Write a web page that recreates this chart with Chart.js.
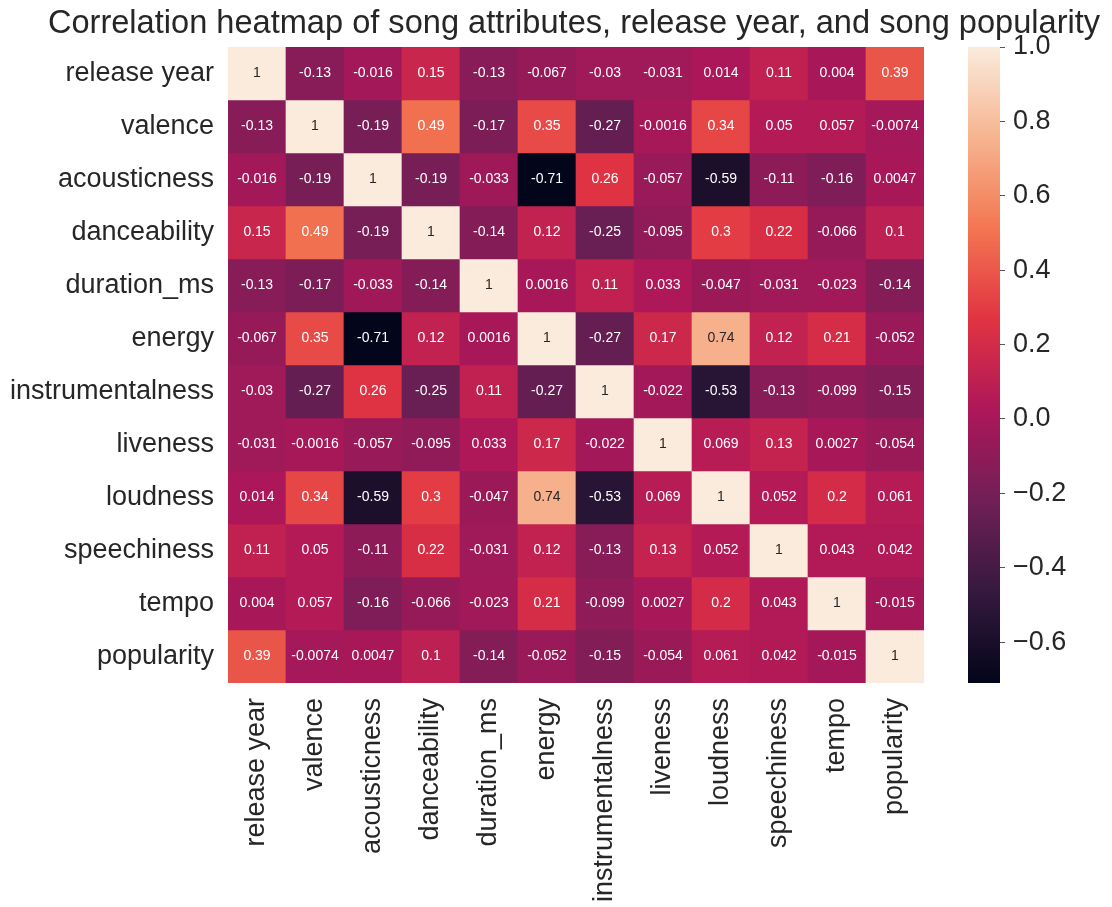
<!DOCTYPE html>
<html>
<head>
<meta charset="utf-8">
<script src="https://cdn.jsdelivr.net/npm/chart.js@4.4.1/dist/chart.umd.min.js"></script>
<style>
  html, body { margin: 0; padding: 0; background: #fff; overflow: hidden; }
  #wrap { position: relative; width: 1112px; height: 907px; }
  #heatmap { position: absolute; left: 0; top: 0; }
  #cbar { position: absolute; left: 940px; top: 0; }
  #title {
    position: absolute; left: 574px; top: 6px; transform: translateX(-50%);
    white-space: nowrap; font: 32.6px/32px "Liberation Sans", Arial, sans-serif; color: #262626;
  }
</style>
</head>
<body>
<div id="wrap">
  <canvas id="heatmap" width="1112" height="907"></canvas>
  <canvas id="cbar" width="172" height="907"></canvas>
  <div id="title">Correlation heatmap of song attributes, release year, and song popularity</div>
</div>
<script>
const features = ['release year', 'valence', 'acousticness', 'danceability', 'duration_ms', 'energy',
  'instrumentalness', 'liveness', 'loudness', 'speechiness', 'tempo', 'popularity'];

// correlation matrix, one row per feature (same order as features)
const corr = [
  [1, -0.13, -0.016, 0.15, -0.13, -0.067, -0.03, -0.031, 0.014, 0.11, 0.004, 0.39],
  [-0.13, 1, -0.19, 0.49, -0.17, 0.35, -0.27, -0.0016, 0.34, 0.05, 0.057, -0.0074],
  [-0.016, -0.19, 1, -0.19, -0.033, -0.71, 0.26, -0.057, -0.59, -0.11, -0.16, 0.0047],
  [0.15, 0.49, -0.19, 1, -0.14, 0.12, -0.25, -0.095, 0.3, 0.22, -0.066, 0.1],
  [-0.13, -0.17, -0.033, -0.14, 1, 0.0016, 0.11, 0.033, -0.047, -0.031, -0.023, -0.14],
  [-0.067, 0.35, -0.71, 0.12, 0.0016, 1, -0.27, 0.17, 0.74, 0.12, 0.21, -0.052],
  [-0.03, -0.27, 0.26, -0.25, 0.11, -0.27, 1, -0.022, -0.53, -0.13, -0.099, -0.15],
  [-0.031, -0.0016, -0.057, -0.095, 0.033, 0.17, -0.022, 1, 0.069, 0.13, 0.0027, -0.054],
  [0.014, 0.34, -0.59, 0.3, -0.047, 0.74, -0.53, 0.069, 1, 0.052, 0.2, 0.061],
  [0.11, 0.05, -0.11, 0.22, -0.031, 0.12, -0.13, 0.13, 0.052, 1, 0.043, 0.042],
  [0.004, 0.057, -0.16, -0.066, -0.023, 0.21, -0.099, 0.0027, 0.2, 0.043, 1, -0.015],
  [0.39, -0.0074, 0.0047, 0.1, -0.14, -0.052, -0.15, -0.054, 0.061, 0.042, -0.015, 1]
];

const cbarTicks = [-0.6, -0.4, -0.2, 0.0, 0.2, 0.4, 0.6, 0.8, 1.0];
const vmin = -0.71;
const vmax = 1.0;

const FONT = '"Liberation Sans", Arial, sans-serif';
const TEXT = '#262626';

// seaborn "rocket" colormap, sampled
const rocketStops = [
  [0, [3, 5, 26]],
  [1 / 7, [53, 25, 62]],
  [2 / 7, [112, 31, 87]],
  [3 / 7, [173, 23, 89]],
  [4 / 7, [225, 51, 66]],
  [5 / 7, [243, 118, 81]],
  [6 / 7, [246, 180, 143]],
  [1, [250, 235, 221]]
];

function rocket(t) {
  t = Math.max(0, Math.min(1, t));
  for (let i = 1; i < rocketStops.length; i++) {
    const [t1, c1] = rocketStops[i];
    const [t0, c0] = rocketStops[i - 1];
    if (t <= t1) {
      const f = (t - t0) / (t1 - t0);
      return c0.map((c, k) => Math.round(c + (c1[k] - c) * f));
    }
  }
  return rocketStops[rocketStops.length - 1][1];
}

const toRgb = c => `rgb(${c[0]},${c[1]},${c[2]})`;
const norm = v => (v - vmin) / (vmax - vmin);

function luminance(c) {
  const lin = c.map(x => {
    x /= 255;
    return x <= 0.03928 ? x / 12.92 : Math.pow((x + 0.055) / 1.055, 2.4);
  });
  return 0.2126 * lin[0] + 0.7152 * lin[1] + 0.0722 * lin[2];
}

// like python's '.2g'
const fmt = v => String(parseFloat(v.toPrecision(2)));

const datasets = corr.map((row, r) => ({
  label: features[r],
  data: row.map(() => [r, r + 1]),
  backgroundColor: row.map(v => toRgb(rocket(norm(v)))),
  borderWidth: 0,
  barPercentage: 1,
  categoryPercentage: 1,
  grouped: false
}));

const cellLabels = {
  id: 'cellLabels',
  afterDatasetsDraw(chart) {
    const ctx = chart.ctx;
    ctx.save();
    ctx.font = '14px ' + FONT;
    ctx.textAlign = 'center';
    ctx.textBaseline = 'middle';
    chart.data.datasets.forEach((ds, r) => {
      chart.getDatasetMeta(r).data.forEach((bar, c) => {
        const v = corr[r][c];
        const p = bar.getCenterPoint();
        ctx.fillStyle = luminance(rocket(norm(v))) > 0.408 ? TEXT : '#ffffff';
        ctx.fillText(fmt(v), p.x, p.y);
      });
    });
    ctx.restore();
  }
};

new Chart(document.getElementById('heatmap'), {
  type: 'bar',
  data: { labels: features, datasets: datasets },
  options: {
    responsive: false,
    animation: false,
    layout: { padding: { left: 0, right: 188, top: 47, bottom: 0 } },
    scales: {
      x: {
        grid: { display: false, drawTicks: false },
        border: { display: false },
        ticks: {
          minRotation: 90,
          maxRotation: 90,
          autoSkip: false,
          padding: 15,
          color: TEXT,
          font: { family: FONT, size: 27 }
        },
        afterFit: s => { s.height = 907 - 683; }
      },
      y: {
        type: 'linear',
        reverse: true,
        min: 0,
        max: features.length,
        grid: { display: false, drawTicks: false },
        border: { display: false },
        afterBuildTicks: s => { s.ticks = features.map((f, i) => ({ value: i + 0.5 })); },
        ticks: {
          padding: 14,
          color: TEXT,
          font: { family: FONT, size: 27 },
          callback: (v, i) => features[i]
        },
        afterFit: s => { s.width = 228; }
      }
    },
    plugins: {
      legend: { display: false },
      tooltip: { enabled: false },
      title: { display: false }
    }
  },
  plugins: [cellLabels]
});

// colorbar
new Chart(document.getElementById('cbar'), {
  type: 'bar',
  data: {
    labels: [''],
    datasets: [{
      data: [[vmin, vmax]],
      borderWidth: 0,
      barPercentage: 1,
      categoryPercentage: 1,
      backgroundColor: ctx => {
        const area = ctx.chart.chartArea;
        if (!area) return null;
        const g = ctx.chart.ctx.createLinearGradient(0, area.bottom, 0, area.top);
        rocketStops.forEach(([t, c]) => g.addColorStop(t, toRgb(c)));
        return g;
      }
    }]
  },
  options: {
    responsive: false,
    animation: false,
    layout: { padding: { left: 28, right: 0, top: 47, bottom: 224 } },
    scales: {
      x: { display: false },
      y: {
        position: 'right',
        min: vmin,
        max: vmax,
        grid: { display: true, drawOnChartArea: false, drawTicks: true, tickLength: 5, color: '#555', lineWidth: 1 },
        border: { display: false },
        afterBuildTicks: s => { s.ticks = cbarTicks.map(v => ({ value: v })); },
        ticks: {
          padding: 8,
          color: TEXT,
          font: { family: FONT, size: 27 },
          callback: v => (v < -1e-9 ? '\u2212' : '') + Math.abs(v).toFixed(1)
        },
        afterFit: s => { s.width = 172 - 28 - 32; }
      }
    },
    plugins: { legend: { display: false }, tooltip: { enabled: false } }
  }
});
</script>
</body>
</html>
